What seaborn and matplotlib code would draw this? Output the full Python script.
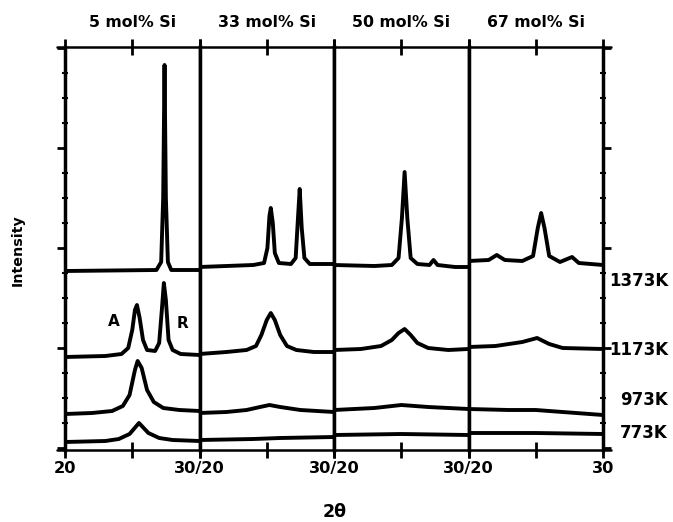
import numpy as np
import pandas as pd
import matplotlib
matplotlib.use("Agg")
import matplotlib.pyplot as plt
from matplotlib.lines import Line2D
from matplotlib.ticker import MultipleLocator
import seaborn as sns

# composition panels and calcination temperatures
panels = ["5 mol% Si", "33 mol% Si", "50 mol% Si", "67 mol% Si"]
temps = ["773K", "973K", "1173K", "1373K"]
xtick_labels = [["20", "", "30/20"], ["", "", "30/20"], ["", "", "30/20"], ["", "", "30"]]

# traces: (2theta, intensity) in arbitrary units
si05_773 = [(20, 6), (23, 7), (24, 9), (24.8, 14), (25.5, 25), (26.2, 15), (27, 10), (28, 8), (30, 7)]
si05_973 = [(20, 34), (22, 35), (23.5, 37), (24.3, 42), (24.8, 53), (25.2, 78), (25.4, 87), (25.7, 80),
            (26.1, 58), (26.6, 46), (27.3, 40), (28.5, 38), (30, 37)]
si05_1173 = [(20, 91), (23, 92), (24.2, 94), (24.7, 100), (25.0, 118), (25.2, 138), (25.35, 143), (25.55, 130),
             (25.8, 108), (26.1, 98), (26.7, 97), (27.0, 105), (27.2, 138), (27.35, 165), (27.5, 148),
             (27.7, 108), (28.0, 98), (28.6, 94), (30, 93)]
si05_1373 = [(20, 177), (26.8, 178), (27.15, 186), (27.3, 250), (27.4, 383), (27.5, 250), (27.65, 186),
             (27.9, 178), (30, 178)]

si33_773 = [(20, 8), (24, 9), (26, 10), (30, 11)]
si33_973 = [(20, 35), (22, 36), (23.5, 38), (24.5, 41), (25.2, 43), (26, 41), (27.5, 38), (30, 36)]
si33_1173 = [(20, 94), (22, 96), (23.5, 98), (24.2, 102), (24.6, 113), (25.0, 128), (25.3, 135), (25.6, 128),
             (26.0, 113), (26.5, 102), (27.2, 98), (28.5, 96), (30, 96)]
si33_1373 = [(20, 181), (22, 182), (24, 183), (24.8, 185), (25.05, 200), (25.2, 232), (25.3, 240), (25.45, 225),
             (25.6, 195), (25.9, 185), (26.8, 184), (27.15, 190), (27.3, 225), (27.45, 259), (27.6, 220),
             (27.8, 190), (28.2, 184), (30, 184)]

si50_773 = [(20, 13), (25, 14), (30, 13)]
si50_973 = [(20, 38), (23, 40), (25, 43), (27, 41), (30, 39)]
si50_1173 = [(20, 98), (22, 99), (23.5, 102), (24.3, 108), (24.8, 115), (25.25, 119), (25.7, 113), (26.2, 105),
             (27, 100), (28.5, 98), (30, 99)]
si50_1373 = [(20, 183), (23, 182), (24.3, 183), (24.8, 190), (25.05, 230), (25.25, 276), (25.45, 230),
             (25.7, 190), (26.2, 184), (27.1, 183), (27.4, 188), (27.7, 183), (29, 181), (30, 181)]

si67_773 = [(20, 15), (25, 15), (30, 14)]
si67_973 = [(20, 39), (23, 38), (25, 38), (27, 36), (30, 33)]
si67_1173 = [(20, 101), (22, 102), (24, 106), (25.1, 110), (26, 104), (27, 100), (30, 99)]
si67_1373 = [(20, 187), (21.5, 188), (22.1, 193), (22.7, 188), (24, 187), (24.8, 192), (25.15, 220),
             (25.4, 235), (25.65, 220), (26.0, 192), (26.8, 186), (27.7, 191), (28.2, 185), (30, 183)]

traces = {
    panels[0]: [si05_773, si05_973, si05_1173, si05_1373],
    panels[1]: [si33_773, si33_973, si33_1173, si33_1373],
    panels[2]: [si50_773, si50_973, si50_1173, si50_1373],
    panels[3]: [si67_773, si67_973, si67_1173, si67_1373],
}

rows = []
for p in panels:
    for t, pts in zip(temps, traces[p]):
        for tt, inten in pts:
            rows.append({"panel": p, "temp": t, "two_theta": tt, "intensity": inten})
df = pd.DataFrame(rows)

sns.set_style("ticks")
plt.rcParams["font.family"] = ["DejaVu Sans"]
plt.rcParams["font.weight"] = "bold"
plt.rcParams["text.color"] = "black"
plt.rcParams["axes.edgecolor"] = "black"
plt.rcParams["xtick.color"] = "black"
plt.rcParams["ytick.color"] = "black"

W, H = 673, 522
fig, axes = plt.subplots(1, 4, sharey=True, figsize=(W / 100, H / 100), dpi=100)
fig.subplots_adjust(left=65 / W, right=603 / W, bottom=1 - 450 / H, top=1 - 47 / H, wspace=0)

for i, (ax, p) in enumerate(zip(axes, panels)):
    sub = df[df["panel"] == p]
    sns.lineplot(data=sub, x="two_theta", y="intensity", units="temp", estimator=None,
                 sort=False, color="black", lw=2.8, ax=ax, legend=False)
    ax.set_xlim(20, 30)
    ax.set_ylim(-2, 401)
    ax.set_xlabel("")
    ax.set_ylabel("")
    ax.set_xticks([20, 25, 30])
    ax.set_xticklabels(xtick_labels[i], fontsize=11.7, fontweight="bold")
    ax.tick_params(axis="x", which="both", top=True, bottom=True, direction="inout",
                   length=12, width=2, pad=2)
    ax.spines["top"].set_visible(False)
    ax.spines["bottom"].set_visible(False)
    for s in ["left", "right"]:
        ax.spines[s].set_linewidth(2.5)
    ax.yaxis.set_major_locator(MultipleLocator(100))
    ax.yaxis.set_minor_locator(MultipleLocator(25))
    ax.tick_params(axis="y", which="major", left=(i == 0), right=(i == 3), labelleft=False,
                   direction="out", length=6, width=2)
    ax.tick_params(axis="y", which="minor", left=(i == 0), right=(i == 3),
                   direction="inout", length=4, width=1.5)
    ax.text(0.5, 1.062, p, transform=ax.transAxes, ha="center", va="center",
            fontsize=11.3, fontweight="bold")

axes[0].text(23.6, 126, "A", ha="center", va="center", fontsize=11, fontweight="bold")
axes[0].text(28.75, 125, "R", ha="center", va="center", fontsize=11, fontweight="bold")

# extended top and bottom frame lines
for py in (47, 450):
    fig.add_artist(Line2D([57 / W, 611 / W], [1 - py / H, 1 - py / H], color="black", lw=1.8))

# temperature labels on the right
for lab, py in zip(["1373K", "1173K", "973K", "773K"], [281, 350, 400, 433]):
    fig.text(668 / W, 1 - py / H, lab, ha="right", va="center", fontsize=12, fontweight="bold")

fig.text(18 / W, 1 - 250 / H, "Intensity", rotation=90, ha="center", va="center",
         fontsize=10.3, fontweight="bold")
fig.text(335 / W, 1 - 512 / H, "2θ", ha="center", va="center", fontsize=12.5, fontweight="bold")

fig.savefig("out.png", dpi=100)
